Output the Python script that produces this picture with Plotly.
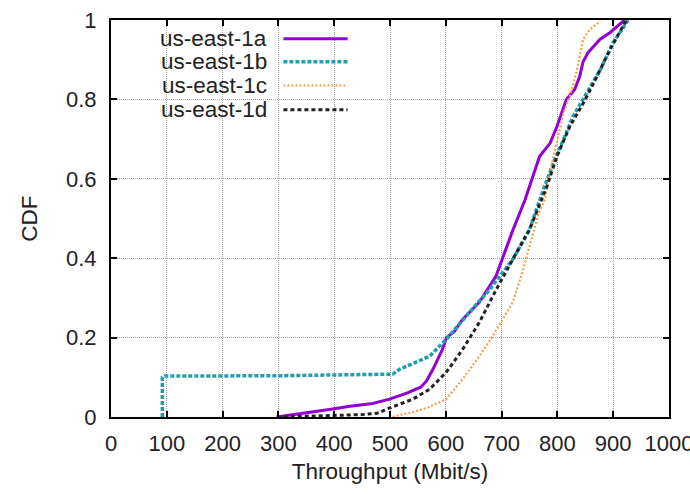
import plotly.graph_objects as go

# ---- data ----
a_x = [297, 330, 360, 397, 428, 469, 499, 530, 555, 565, 577, 594, 601, 615, 630, 660, 690, 701, 720, 742, 756, 768, 787, 799, 808, 816, 831, 840, 846, 855, 876, 894, 917, 920]
a_y = [0.0, 0.006, 0.012, 0.02, 0.027, 0.034, 0.045, 0.06, 0.075, 0.09, 0.12, 0.17, 0.20, 0.215, 0.246, 0.289, 0.355, 0.397, 0.47, 0.547, 0.605, 0.656, 0.69, 0.731, 0.767, 0.8, 0.825, 0.858, 0.895, 0.918, 0.951, 0.968, 0.996, 1.0]

b_x = [92, 92, 96, 300, 505, 517, 571, 601, 642, 678, 720, 750, 775, 793, 811, 828, 853, 877, 900, 927]
b_y = [0.0, 0.1, 0.103, 0.104, 0.108, 0.12, 0.153, 0.196, 0.263, 0.32, 0.397, 0.472, 0.573, 0.641, 0.699, 0.757, 0.817, 0.875, 0.943, 1.0]

c_x = [505, 511, 541, 570, 601, 630, 660, 684, 720, 737, 750, 767, 778, 784, 793, 802, 811, 822, 834, 840, 846, 858, 873, 876]
c_y = [0.0, 0.003, 0.012, 0.025, 0.045, 0.095, 0.153, 0.204, 0.289, 0.364, 0.43, 0.515, 0.55, 0.598, 0.656, 0.716, 0.767, 0.807, 0.868, 0.908, 0.951, 0.976, 0.993, 1.0]

d_x = [297, 350, 400, 450, 480, 494, 541, 571, 601, 630, 660, 690, 720, 750, 781, 799, 822, 847, 871, 894, 921, 923]
d_y = [0.0, 0.002, 0.004, 0.006, 0.01, 0.02, 0.045, 0.07, 0.113, 0.17, 0.238, 0.32, 0.397, 0.472, 0.58, 0.656, 0.731, 0.792, 0.858, 0.925, 0.993, 1.0]

names = ["us-east-1a", "us-east-1b", "us-east-1c", "us-east-1d"]
colors = ["#9400d3", "#1f9ead", "#f7a048", "#222222"]
dashes = ["solid", "4px,2px", "2px,2px", "4px,3px"]
widths = [3, 3.5, 2.2, 3]

x_ticks = [0, 100, 200, 300, 400, 500, 600, 700, 800, 900, 1000]
y_ticks = [0, 0.2, 0.4, 0.6, 0.8, 1]
y_labels = ["0", "0.2", "0.4", "0.6", "0.8", "1"]

FONT = "Liberation Sans, Arial, sans-serif"
FS = 22
FS_T = 22.5

fig = go.Figure()
series = [(a_x, a_y), (b_x, b_y), (c_x, c_y), (d_x, d_y)]
for (xs, ys), n, c, d, w in zip(series, names, colors, dashes, widths):
    fig.add_trace(go.Scatter(x=xs, y=ys, mode="lines", name=n,
                             line=dict(color=c, width=w, dash=d),
                             showlegend=False))

# gnuplot-style key: text right-aligned, sample line to the right
row_y = [0.953, 0.895, 0.835, 0.774]
for n, c, d, w, ry in zip(names, colors, dashes, widths, row_y):
    fig.add_annotation(x=0.283, y=ry, xref="paper", yref="paper", text=n,
                       showarrow=False, xanchor="right", yanchor="middle",
                       font=dict(family=FONT, size=FS_T, color="#222"))
    fig.add_shape(type="line", xref="paper", yref="paper",
                  x0=0.309, x1=0.424, y0=ry, y1=ry,
                  line=dict(color=c, width=w, dash=d))

axis_common = dict(
    showline=True, linecolor="black", linewidth=2, mirror="allticks",
    ticks="inside", ticklen=6, tickcolor="black", tickwidth=1.5,
    showgrid=True, gridcolor="#a0a0a0", gridwidth=1, griddash="1px,1px",
    zeroline=False, ticklabeloverflow="allow", automargin=False,
    tickfont=dict(family=FONT, size=FS, color="#222"),
)

fig.update_xaxes(range=[0, 1000], tickvals=x_ticks,
                 ticktext=[str(v) for v in x_ticks],
                 title=dict(text="Throughput (Mbit/s)", standoff=8,
                            font=dict(family=FONT, size=FS_T, color="#222")),
                 ticklabelstandoff=6,
                 **axis_common)
fig.update_yaxes(range=[0, 1], tickvals=y_ticks, ticktext=y_labels,
                 title=dict(text="CDF", standoff=22,
                            font=dict(family=FONT, size=FS_T, color="#222")),
                 ticklabelstandoff=8,
                 **axis_common)

fig.update_layout(width=690, height=494,
                  margin=dict(l=111, r=21, t=20, b=77),
                  plot_bgcolor="white", paper_bgcolor="white",
                  showlegend=False)

fig.write_html("out.html")
